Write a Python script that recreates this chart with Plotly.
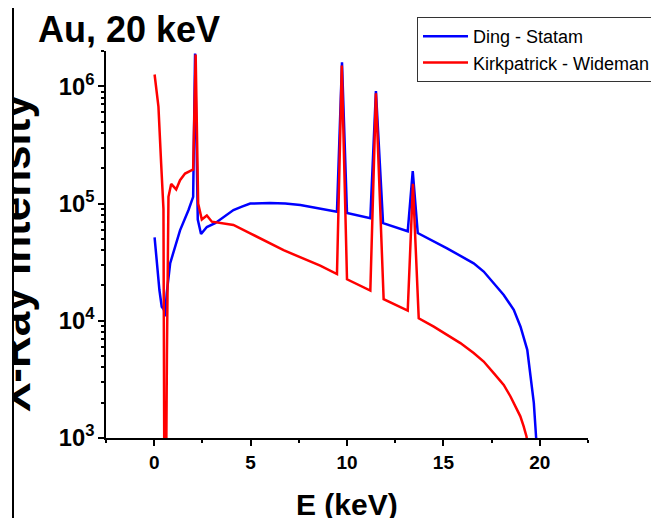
import plotly.graph_objects as go

# ---- data ----
ds_energy = [0.02, 0.13, 0.27, 0.39, 0.50, 0.57, 0.65, 0.83, 1.09, 1.34, 1.78, 1.95, 2.02,
             2.12, 2.26, 2.43, 2.73, 3.16, 3.6, 4.11, 4.55, 4.98, 6.0, 6.8, 7.58, 8.6, 9.48,
             9.74, 10.0, 11.21, 11.5, 11.87, 13.15, 13.41, 13.67, 15.19, 15.88, 16.57,
             17.09, 17.61, 18.13, 18.65, 19.0, 19.35, 19.52, 19.69, 19.85]
ds_intensity = [5.15e4, 3.1e4, 1.83e4, 1.32e4, 1.25e4, 1.09e4, 1.72e4, 3.1e4, 4.3e4, 5.9e4,
                8.8e4, 1.07e5, 1.14e5, 1.9e6, 7.3e4, 5.5e4, 6.3e4, 6.8e4, 7.7e4, 8.8e4,
                9.4e4, 1.0e5, 1.01e5, 1.0e5, 9.7e4, 9.1e4, 8.5e4, 1.6e6, 8.3e4, 7.5e4,
                9.1e5, 6.8e4, 5.8e4, 1.89e5, 5.6e4, 4.15e4, 3.6e4, 3.09e4, 2.63e4, 2.09e4,
                1.66e4, 1.24e4, 8.9e3, 5.65e3, 3.35e3, 1.99e3, 8.0e2]

kw_energy = [0.02, 0.22, 0.36, 0.44, 0.48, 0.53, 0.61, 0.66, 0.74, 0.88, 1.14, 1.34, 1.6,
             1.95, 2.02, 2.15, 2.28, 2.47, 2.73, 2.99, 4.11, 4.98, 6.71, 8.61, 9.48, 9.73,
             10.0, 11.21, 11.5, 11.9, 13.15, 13.42, 13.72, 14.5, 15.19, 15.88, 16.57,
             17.09, 17.61, 18.13, 18.48, 18.99, 19.16, 19.31, 19.45]
kw_intensity = [1.26e6, 6.7e5, 2.2e5, 1.04e5, 9.0e4, 3.0e2, 3.0e2, 5.0e3, 1.14e5, 1.47e5,
                1.32e5, 1.58e5, 1.8e5, 1.93e5, 1.95e5, 1.87e6, 1.0e5, 7.3e4, 7.9e4, 7.0e4,
                6.56e4, 5.57e4, 4.0e4, 2.95e4, 2.5e4, 1.5e6, 2.26e4, 1.81e4, 8.7e5, 1.53e4,
                1.22e4, 1.47e5, 1.05e4, 8.9e3, 7.6e3, 6.45e3, 5.3e3, 4.49e3, 3.58e3,
                2.84e3, 2.26e3, 1.53e3, 1.26e3, 1.03e3, 7.0e2]

series_names = ["Ding - Statam", "Kirkpatrick - Wideman"]
title_text = "Au, 20 keV"
x_title = "E (keV)"
y_title = "X-Ray Intensity"

FONT = "Arial, Liberation Sans, sans-serif"

fig = go.Figure()
fig.add_trace(go.Scatter(x=ds_energy, y=ds_intensity, mode="lines", name=series_names[0],
                         line=dict(color="#0000FF", width=2.5)))
fig.add_trace(go.Scatter(x=kw_energy, y=kw_intensity, mode="lines", name=series_names[1],
                         line=dict(color="#FF0000", width=2.5)))

# page offset (body margin) of the figure inside the browser window
OFF = 8
W, H = 659 - OFF, 518 - OFF
# plot area in page pixels: x 106..588, y 51..438
PL, PR, PT, PB = 106, 588, 51, 438
L, T = PL - OFF, PT - OFF
R, B = W - (PR - OFF), H - (PB - OFF)
pw, ph = PR - PL, PB - PT


def px(x):
    return (x - PL) / pw


def py(y):
    return (PB - y) / ph


fig.update_layout(
    width=W, height=H,
    margin=dict(l=L, r=R, t=T, b=B, pad=0, autoexpand=False),
    paper_bgcolor="white", plot_bgcolor="white",
    font=dict(family=FONT, color="black"),
    showlegend=True,
    legend=dict(x=px(417), y=py(17), xanchor="left", yanchor="top",
                bgcolor="white", bordercolor="#333333", borderwidth=1,
                itemwidth=45,
                font=dict(size=18, family=FONT), tracegroupgap=0),
    xaxis=dict(range=[-2.5, 22.5], dtick=5, tick0=0, showgrid=False, zeroline=False,
               showline=True, linecolor="black", linewidth=1.5, automargin=False,
               ticks="outside", ticklen=6, tickwidth=1.5, tickcolor="black",
               minor=dict(dtick=2.5, tick0=0, ticks="outside", ticklen=3, tickwidth=1.5,
                          tickcolor="black"),
               tickfont=dict(size=19, family=FONT, weight="bold")),
    yaxis=dict(type="log", range=[3, 6.301], dtick=1, exponentformat="power",
               showgrid=False, zeroline=False, automargin=False,
               showline=True, linecolor="black", linewidth=1.5,
               ticks="outside", ticklen=6, tickwidth=1.5, tickcolor="black",
               minor=dict(dtick="D1", ticks="outside", ticklen=3, tickwidth=1.5,
                          tickcolor="black"),
               tickfont=dict(size=19, family=FONT, weight="bold")),
)

annotations = [
    dict(text=y_title, xref="paper", yref="paper", x=px(14), y=py(253),
         xanchor="center", yanchor="middle", textangle=-90, showarrow=False,
         font=dict(size=44, family=FONT, weight="bold", color="black")),
    # white cover + black edge line at left (as in reference crop)
    dict(text=" ", xref="paper", yref="paper", x=px(12), y=0.5, xanchor="right",
         yanchor="middle", width=100, height=800, bgcolor="white", borderwidth=0,
         borderpad=0, showarrow=False),
    dict(text=" ", xref="paper", yref="paper", x=px(12), y=0.5, xanchor="left",
         yanchor="middle", width=2, height=800, bgcolor="black", borderwidth=0,
         borderpad=0, showarrow=False),
    dict(text=title_text, xref="paper", yref="paper", x=px(36), y=py(29),
         xanchor="left", yanchor="middle", showarrow=False,
         font=dict(size=36, family=FONT, weight="bold", color="black")),
    dict(text=x_title, xref="paper", yref="paper", x=0.5, y=py(504),
         xanchor="center", yanchor="middle", showarrow=False,
         font=dict(size=30, family=FONT, weight="bold", color="black")),
]
fig.update_layout(annotations=annotations)

fig.write_html("out.html")
